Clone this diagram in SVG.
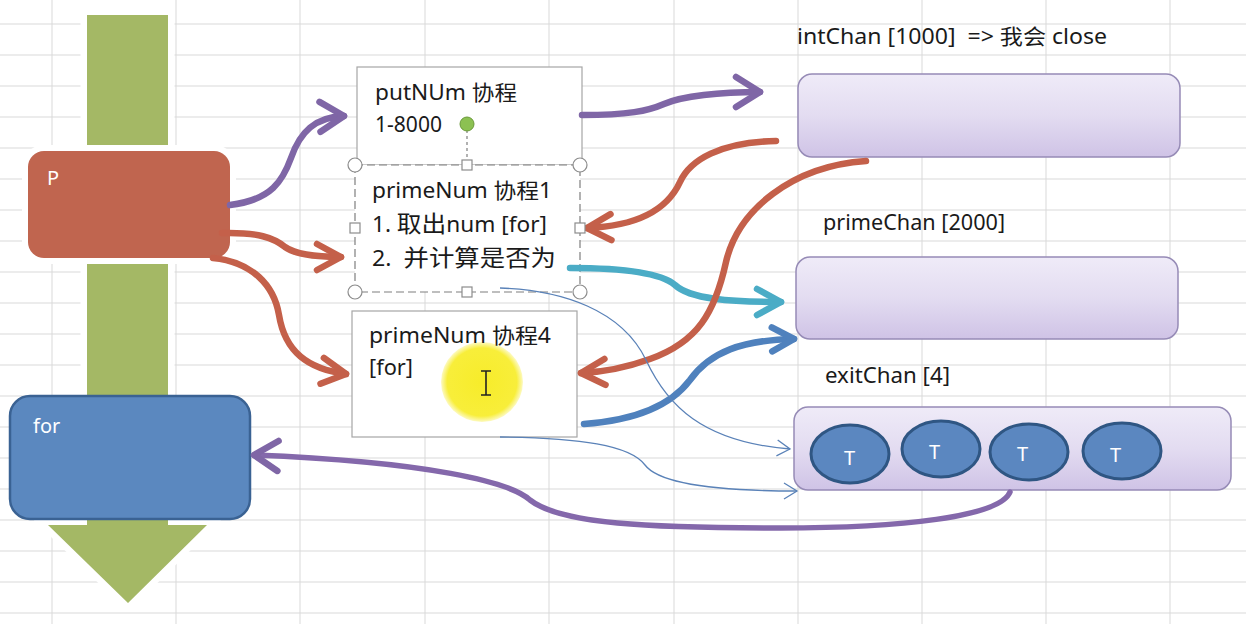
<svg xmlns="http://www.w3.org/2000/svg" width="1246" height="624" viewBox="0 0 1246 624">
<style>
.grid line{stroke:#d9d9d9;stroke-width:1}
.t{font-family:"Noto Sans","Noto Sans CJK SC",sans-serif;font-size:21px;fill:#1a1a1a}
.w{font-family:"Noto Sans","Noto Sans CJK SC",sans-serif;font-size:20px;fill:#ffffff}
.chan{fill:url(#chanGrad);stroke:#968bb6;stroke-width:1.5}
.box{fill:#ffffff;stroke:#a6a6a6;stroke-width:1.2}
.thick{fill:none;stroke-width:6.5;stroke-linecap:round}
.thin{fill:none;stroke:#5a82b8;stroke-width:1.3}
.hc{fill:#ffffff;stroke:#8c8c8c;stroke-width:1.2}
.tc{fill:#5b87c0;stroke:#2f5683;stroke-width:3}
</style>
<defs>
<linearGradient id="chanGrad" x1="0" y1="0" x2="0" y2="1">
<stop offset="0" stop-color="#efebf8"/>
<stop offset="0.5" stop-color="#e3dcf1"/>
<stop offset="1" stop-color="#cfc3e6"/>
</linearGradient>
<radialGradient id="yel" cx="0.5" cy="0.5" r="0.5">
<stop offset="0" stop-color="#f7ec2a"/>
<stop offset="0.85" stop-color="#f8ee3a"/>
<stop offset="1" stop-color="#f8ee3a" stop-opacity="0.3"/>
</radialGradient>
<marker id="hPur" markerUnits="userSpaceOnUse" markerWidth="40" markerHeight="40" viewBox="-30 -20 40 40" refX="0" refY="0" orient="auto" overflow="visible">
<path d="M-24,-15 L0,0 L-24,15" fill="none" stroke="#7f66a6" stroke-width="6.5" stroke-linecap="round" stroke-linejoin="round"/>
</marker>
<marker id="hRed" markerUnits="userSpaceOnUse" markerWidth="40" markerHeight="40" viewBox="-30 -20 40 40" refX="0" refY="0" orient="auto" overflow="visible">
<path d="M-24,-13 L0,0 L-24,13" fill="none" stroke="#c4604a" stroke-width="6.5" stroke-linecap="round" stroke-linejoin="round"/>
</marker>
<marker id="hTeal" markerUnits="userSpaceOnUse" markerWidth="40" markerHeight="40" viewBox="-30 -20 40 40" refX="0" refY="0" orient="auto" overflow="visible">
<path d="M-24,-13 L0,0 L-24,13" fill="none" stroke="#4bacc6" stroke-width="6.5" stroke-linecap="round" stroke-linejoin="round"/>
</marker>
<marker id="hBlue" markerUnits="userSpaceOnUse" markerWidth="40" markerHeight="40" viewBox="-30 -20 40 40" refX="0" refY="0" orient="auto" overflow="visible">
<path d="M-22,-12 L0,0 L-22,12" fill="none" stroke="#4f81bd" stroke-width="6.5" stroke-linecap="round" stroke-linejoin="round"/>
</marker>
<marker id="hThin" markerUnits="userSpaceOnUse" markerWidth="20" markerHeight="20" viewBox="-15 -10 20 20" refX="0" refY="0" orient="auto" overflow="visible">
<path d="M-13,-8 L0,0 L-13,8" fill="none" stroke="#5a82b8" stroke-width="1.3"/>
</marker>
</defs>
<rect x="0" y="0" width="1246" height="624" fill="#ffffff"/>
<g class="grid">
<line x1="52" y1="0" x2="52" y2="624"/><line x1="176" y1="0" x2="176" y2="624"/><line x1="300" y1="0" x2="300" y2="624"/><line x1="425" y1="0" x2="425" y2="624"/><line x1="549" y1="0" x2="549" y2="624"/><line x1="674" y1="0" x2="674" y2="624"/><line x1="798" y1="0" x2="798" y2="624"/><line x1="922" y1="0" x2="922" y2="624"/><line x1="1046" y1="0" x2="1046" y2="624"/><line x1="1170" y1="0" x2="1170" y2="624"/>
<line x1="0" y1="24" x2="1246" y2="24"/><line x1="0" y1="55" x2="1246" y2="55"/><line x1="0" y1="86" x2="1246" y2="86"/><line x1="0" y1="117" x2="1246" y2="117"/><line x1="0" y1="148" x2="1246" y2="148"/><line x1="0" y1="179" x2="1246" y2="179"/><line x1="0" y1="210" x2="1246" y2="210"/><line x1="0" y1="241" x2="1246" y2="241"/><line x1="0" y1="272" x2="1246" y2="272"/><line x1="0" y1="303" x2="1246" y2="303"/><line x1="0" y1="334" x2="1246" y2="334"/><line x1="0" y1="365" x2="1246" y2="365"/><line x1="0" y1="396" x2="1246" y2="396"/><line x1="0" y1="427" x2="1246" y2="427"/><line x1="0" y1="458" x2="1246" y2="458"/><line x1="0" y1="489" x2="1246" y2="489"/><line x1="0" y1="520" x2="1246" y2="520"/><line x1="0" y1="551" x2="1246" y2="551"/><line x1="0" y1="582" x2="1246" y2="582"/><line x1="0" y1="613" x2="1246" y2="613"/>
</g>
<g id="flow-arrow">
<path d="M87,15 H168 V525 H207 L128,603 L48,525 H87 Z" fill="#a4b865" stroke="#ffffff" stroke-width="13" stroke-linejoin="miter" paint-order="stroke"/>
</g>
<g id="node-p">
<rect x="28" y="151" width="202" height="107" rx="16" fill="#c0654f" stroke="#ffffff" stroke-width="12" paint-order="stroke"/>
<text class="w" x="47" y="185">P</text>
</g>
<g id="node-for">
<rect x="10" y="396" width="240" height="123" rx="20" fill="#5b88bf" stroke="#3a6293" stroke-width="2.5"/>
<text class="w" x="33" y="433" font-size="21">for</text>
</g>
<g id="node-putnum">
<rect class="box" x="357" y="67" width="225" height="98"/>
<text class="t" x="375" y="100" textLength="142" lengthAdjust="spacingAndGlyphs">putNUm 协程</text>
<text class="t" x="375" y="132" textLength="67" lengthAdjust="spacingAndGlyphs">1-8000</text>
</g>
<g id="node-prime1">
<rect x="355" y="165" width="225" height="127" fill="#ffffff" stroke="#7f7f7f" stroke-width="1.2" stroke-dasharray="8 4"/>
<text class="t" x="372" y="198" textLength="180" lengthAdjust="spacingAndGlyphs">primeNum 协程1</text>
<text class="t" x="372" y="232" textLength="175" lengthAdjust="spacingAndGlyphs">1. <tspan font-size="23">取出</tspan>num [for]</text>
<text class="t" x="372" y="266" textLength="184" lengthAdjust="spacingAndGlyphs">2.&#160; <tspan font-size="23">并计算是否为</tspan></text>
</g>
<g id="node-prime4">
<rect class="box" x="352" y="311" width="225" height="126"/>
<ellipse cx="482" cy="382" rx="41" ry="40" fill="url(#yel)"/>
<text class="t" x="369" y="343" textLength="182" lengthAdjust="spacingAndGlyphs">primeNum 协程4</text>
<text class="t" x="369" y="375" textLength="44" lengthAdjust="spacingAndGlyphs">[for]</text>
<path d="M481,371 H491 M486,371 V395 M481,395 H491" fill="none" stroke="#222222" stroke-width="1.6"/>
</g>
<g id="node-intchan">
<text class="t" x="797" y="44" textLength="310" lengthAdjust="spacingAndGlyphs">intChan [1000]&#160; =&gt; 我会 close</text>
<rect class="chan" x="798" y="74" width="382" height="83" rx="14"/>
</g>
<g id="node-primechan">
<text class="t" x="823" y="230" textLength="182" lengthAdjust="spacingAndGlyphs">primeChan [2000]</text>
<rect class="chan" x="796" y="257" width="382" height="82" rx="14"/>
</g>
<g id="node-exitchan">
<text class="t" x="825" y="383" textLength="125" lengthAdjust="spacingAndGlyphs">exitChan [4]</text>
<rect class="chan" x="794" y="407" width="437" height="83" rx="14"/>
<ellipse class="tc" cx="850" cy="454" rx="39" ry="29"/>
<ellipse class="tc" cx="941" cy="449" rx="39" ry="28"/>
<ellipse class="tc" cx="1029" cy="452" rx="39" ry="28"/>
<ellipse class="tc" cx="1122" cy="451" rx="39" ry="28"/>
<text class="w" x="844" y="465" font-size="18">T</text>
<text class="w" x="929" y="459" font-size="18">T</text>
<text class="w" x="1017" y="461" font-size="18">T</text>
<text class="w" x="1110" y="462" font-size="18">T</text>
</g>
<g id="connectors">
<path class="thick" stroke="#7f66a6" d="M230,205 C272,200 283,180 291,158 C300,132 315,117 344,116" marker-end="url(#hPur)"/>
<path class="thick" stroke="#c4604a" d="M222,233 C258,232 274,238 285,247 C296,255 316,257 341,257" marker-end="url(#hRed)"/>
<path class="thick" stroke="#c4604a" d="M213,258 C252,262 274,285 279,315 C285,352 308,369 346,374" marker-end="url(#hRed)"/>
<path class="thick" stroke="#7f66a6" d="M582,115 C628,115 648,111 664,104 C682,96 720,92 760,92" marker-end="url(#hPur)"/>
<path class="thick" stroke="#c4604a" d="M776,141 C720,142 690,160 680,182 C668,208 640,226 587,228" marker-end="url(#hRed)"/>
<path class="thick" stroke="#4bacc6" d="M570,268 C620,268 660,272 675,285 C690,299 730,302 781,302" marker-end="url(#hTeal)"/>
<path class="thick" stroke="#4f81bd" d="M584,424 C640,420 672,404 690,380 C710,352 742,340 794,339" marker-end="url(#hBlue)"/>
<path class="thick" stroke="#c4604a" d="M866,161 C792,166 738,210 726,262 C715,312 698,342 650,359 C628,367 604,372 581,373" marker-end="url(#hRed)"/>
<path class="thin" d="M500,288 C562,290 622,310 646,360 C667,405 702,442 790,449" marker-end="url(#hThin)"/>
<path class="thin" d="M500,437 C580,438 630,445 645,465 C660,485 720,491 797,491" marker-end="url(#hThin)"/>
<path fill="none" stroke="#8468ab" stroke-width="5.5" stroke-linecap="round" d="M1010,492 C1000,517 900,528 780,528 C650,528 560,524 530,500 C510,482 430,462 254,455" marker-end="url(#hPur)"/>
</g>
<g id="selection-handles">
<line x1="467" y1="124" x2="467" y2="160" stroke="#7f7f7f" stroke-width="1.2" stroke-dasharray="3 3"/>
<circle cx="467" cy="124" r="7" fill="#8cc152" stroke="#6a9a3a" stroke-width="1"/>
<circle class="hc" cx="355" cy="165" r="7"/>
<circle class="hc" cx="580" cy="165" r="7"/>
<circle class="hc" cx="355" cy="292" r="7"/>
<circle class="hc" cx="580" cy="292" r="7"/>
<rect class="hc" x="462" y="160" width="10" height="10"/>
<rect class="hc" x="350" y="223" width="10" height="10"/>
<rect class="hc" x="575" y="223" width="10" height="10"/>
<rect class="hc" x="462" y="287" width="10" height="10"/>
</g>
</svg>
